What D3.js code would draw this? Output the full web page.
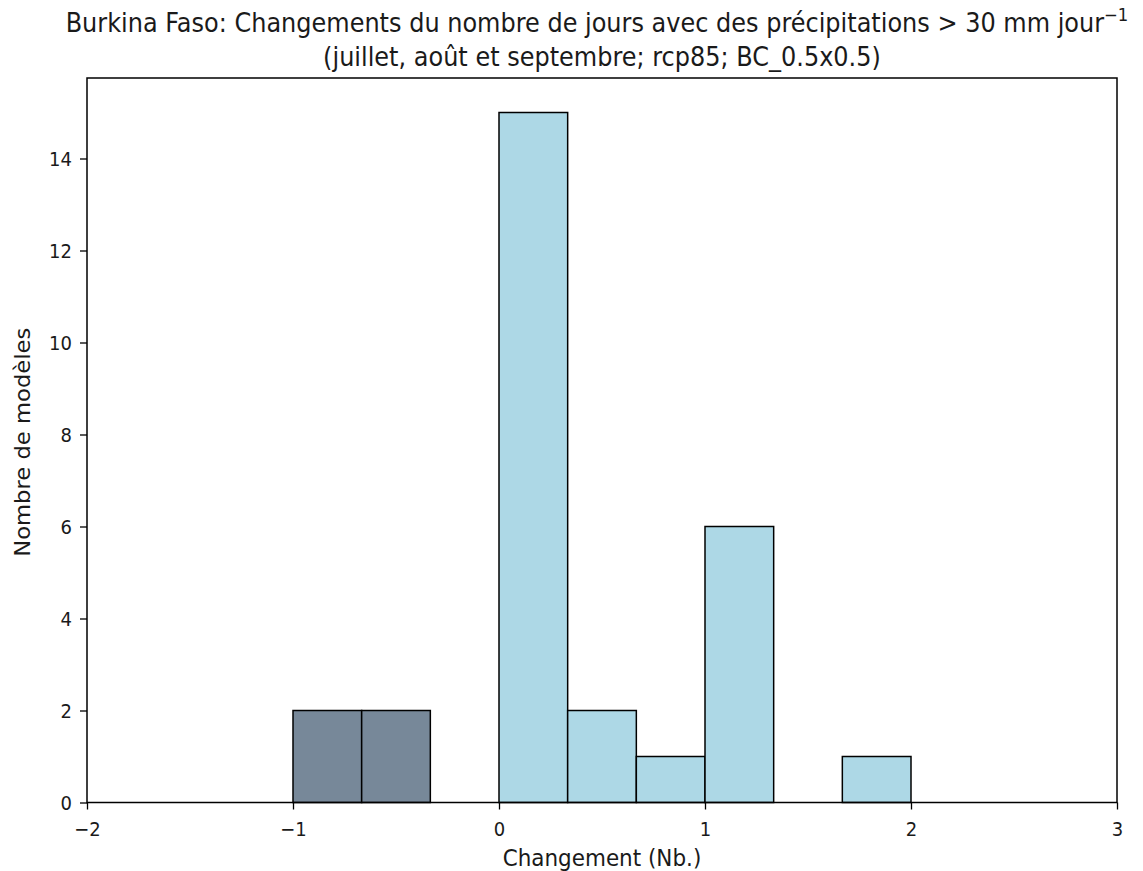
<!DOCTYPE html>
<html>
<head>
<meta charset="utf-8">
<script src="https://cdn.jsdelivr.net/npm/d3@7"></script>
<style>
  html, body { margin: 0; padding: 0; background: #fff; }
  text { font-family: "DejaVu Sans", sans-serif; fill: #1a1a1a; }
</style>
</head>
<body>
<svg id="chart" width="1143" height="871"></svg>
<script>
// Histogram bins (left edge, right edge) and model counts
const binStarts = [-1, -2/3, 0, 1/3, 2/3, 1, 5/3];
const binEnds   = [-2/3, -1/3, 1/3, 2/3, 1, 4/3, 2];
const counts    = [2, 2, 15, 2, 1, 6, 1];
const xTicks = [-2, -1, 0, 1, 2, 3];
const yTicks = [0, 2, 4, 6, 8, 10, 12, 14];

const titleLine1 = "Burkina Faso: Changements du nombre de jours avec des précipitations \u003e 30 mm jour";
const titleLine2 = "(juillet, août et septembre; rcp85; BC_0.5x0.5)";

const svg = d3.select("#chart");
const m = { left: 87, right: 1117, top: 78, bottom: 802.5 };
const vs = 1.08; // slight vertical stretch of the lettering

const x = d3.scaleLinear().domain([-2, 3]).range([m.left, m.right]);
const y = d3.scaleLinear().domain([0, 15.75]).range([m.bottom, m.top]);

const bins = counts.map((c, i) => ({ x0: binStarts[i], x1: binEnds[i], n: c }));

// bars: negative changes in slate grey, positive in light blue
svg.append("g").selectAll("rect").data(bins).join("rect")
  .attr("x", d => x(d.x0))
  .attr("width", d => x(d.x1) - x(d.x0))
  .attr("y", d => y(d.n))
  .attr("height", d => y(0) - y(d.n))
  .attr("fill", d => d.x1 <= 0 ? "#778899" : "#add8e6")
  .attr("stroke", "#000")
  .attr("stroke-width", 1.5);

// frame
svg.append("rect")
  .attr("x", m.left).attr("y", m.top)
  .attr("width", m.right - m.left).attr("height", m.bottom - m.top)
  .attr("fill", "none").attr("stroke", "#000").attr("stroke-width", 1.5);

// axes
const xAxis = svg.append("g").attr("transform", `translate(0,${m.bottom})`)
  .call(d3.axisBottom(x).tickValues(xTicks).tickSize(7).tickPadding(6)
    .tickFormat(d => d < 0 ? "\u2212" + Math.abs(d) : d));
const yAxis = svg.append("g").attr("transform", `translate(${m.left},0)`)
  .call(d3.axisLeft(y).tickValues(yTicks).tickSize(7).tickPadding(7));

[xAxis, yAxis].forEach(a => {
  a.select(".domain").remove();
  a.selectAll("line").attr("stroke", "#000").attr("stroke-width", 1.3);
  a.selectAll("text").style("font-size", "18px").style("font-family", "DejaVu Sans, sans-serif")
    .attr("fill", "#1a1a1a");
});
// stretch tick labels vertically about their anchor
xAxis.selectAll(".tick text").attr("dy", null).attr("y", 0)
  .attr("transform", `translate(0,${33}) scale(1,${vs})`);
yAxis.selectAll(".tick text").attr("dy", null).attr("x", 0)
  .attr("transform", `translate(-15,${7}) scale(1,${vs})`);

// axis titles
svg.append("text")
  .attr("transform", `translate(${(m.left + m.right) / 2},866) scale(1,${vs})`)
  .attr("text-anchor", "middle").style("font-size", "21.5px")
  .text("Changement (Nb.)");
svg.append("text")
  .attr("transform", `translate(30,${(m.top + m.bottom) / 2 + 2}) rotate(-90) scale(${vs},1)`)
  .attr("text-anchor", "middle").style("font-size", "21px")
  .text("Nombre de modèles");

// title
const t1 = svg.append("text")
  .attr("transform", `translate(597,32) scale(1,${vs})`)
  .attr("text-anchor", "middle").style("font-size", "24px");
t1.append("tspan").text(titleLine1);
t1.append("tspan").attr("dy", -10).style("font-size", "16.5px").text("\u22121");
svg.append("text")
  .attr("transform", `translate(602,66) scale(1,${vs})`)
  .attr("text-anchor", "middle").style("font-size", "24px")
  .text(titleLine2);
</script>
</body>
</html>
